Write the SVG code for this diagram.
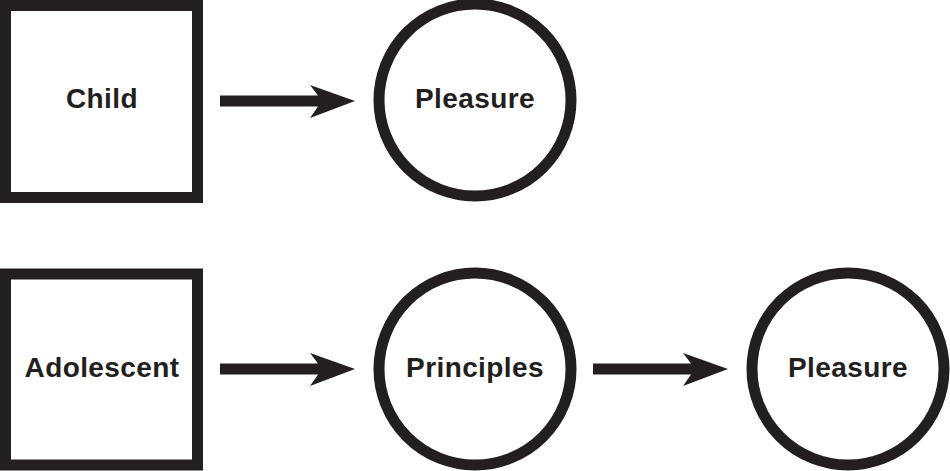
<svg xmlns="http://www.w3.org/2000/svg" width="950" height="471" viewBox="0 0 950 471">
<style>
.n{fill:#fff;stroke:#231f20;stroke-width:11}
.t{font-family:"Liberation Sans",Arial,sans-serif;font-weight:bold;font-size:28px;letter-spacing:0.4px;fill:#231f20;text-anchor:middle}
.a{fill:#231f20}
</style>
<defs>
<path id="arr" d="M0,-5.5 H98 L90,-16 L135,0 L90,17 L98,5.5 H0 Z"/>
</defs>
<rect width="950" height="471" fill="#fff"/>
<g id="child"><rect class="n" x="5.5" y="5.5" width="192" height="192"/><text class="t" x="102" y="108">Child</text></g>
<g id="pleasure1"><circle class="n" cx="475" cy="100" r="96"/><text class="t" x="475" y="108">Pleasure</text></g>
<g id="adolescent"><rect class="n" x="5.5" y="274" width="192" height="191"/><text class="t" x="102" y="377">Adolescent</text></g>
<g id="principles"><circle class="n" cx="475" cy="369" r="96"/><text class="t" x="475" y="377">Principles</text></g>
<g id="pleasure2"><circle class="n" cx="848" cy="369" r="96"/><text class="t" x="848" y="377">Pleasure</text></g>
<g id="connectors" class="a">
<use href="#arr" transform="translate(220,101)"/>
<use href="#arr" transform="translate(220,369)"/>
<use href="#arr" transform="translate(593,369)"/>
</g>
</svg>
